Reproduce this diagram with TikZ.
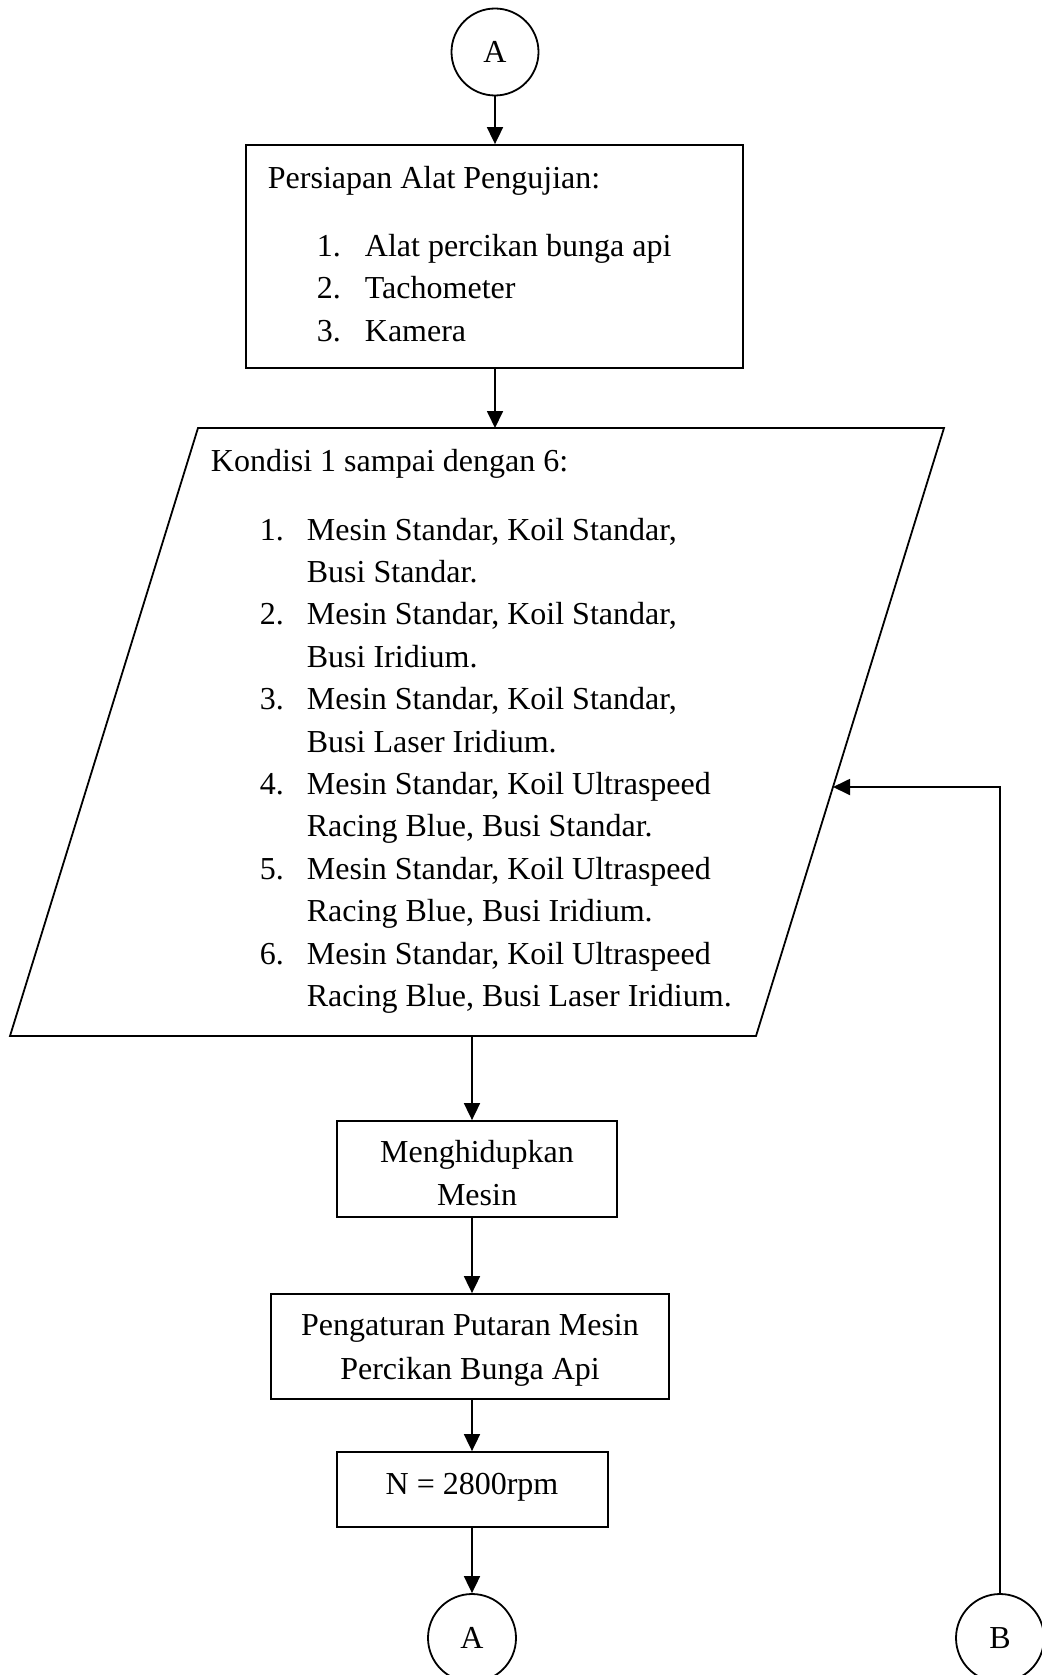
\documentclass[tikz,border=0pt]{standalone}
\usepackage{fontspec}
\setmainfont{Liberation Serif}
\usetikzlibrary{arrows.meta}
\begin{document}
\begin{tikzpicture}[x=1pt,y=-1pt,
  line width=1.8pt,
  every node/.style={font=\fontsize{32}{42.4}\selectfont, inner sep=0pt},
  box/.style={draw, rectangle},
  conn/.style={draw, circle, minimum size=87pt},
  arr/.style={-{Triangle[width=16pt,length=17pt]}},
  txt/.style={anchor=base west},
  ctxt/.style={anchor=base}]
\useasboundingbox (0,0) rectangle (1041,1675);

% connectors
\node[conn] (cA1) at (495,52) {A};
\node[conn, minimum size=88pt] (cA2) at (472,1638) {A};
\node[conn, minimum size=88pt] (cB) at (1000,1638) {B};

% preparation box
\node[box, minimum width=497pt, minimum height=223pt] (r1) at (494.5,256.5) {};
\node[txt] (r1t) at (267,188) {Persiapan Alat Pengujian:};
\foreach \t [count=\i] in {{Alat percikan bunga api},{Tachometer},{Kamera}} {
  \node[txt] (r1n\i) at (316,{256+42.5*(\i-1)}) {\i.};
  \node[txt] (r1l\i) at (364,{256+42.5*(\i-1)}) {\t};
}

% input parallelogram
\coordinate (p1) at (198,428);
\coordinate (p2) at (944,428);
\coordinate (p3) at (756,1036);
\coordinate (p4) at (10,1036);
\draw (p1) -- (p2) -- (p3) -- (p4) -- cycle;
\coordinate (ptop) at (495,428);
\coordinate (pbot) at (472,1036);
\coordinate (pin) at (833,787);
\node[txt] (kt) at (210,471) {Kondisi 1 sampai dengan 6:};
\foreach \i in {1,...,6}
  \node[txt] (kn\i) at (259,{540+84.8*(\i-1)}) {\i.};
\foreach \t [count=\i] in {
  {Mesin Standar, Koil Standar,},{Busi Standar.},
  {Mesin Standar, Koil Standar,},{Busi Iridium.},
  {Mesin Standar, Koil Standar,},{Busi Laser Iridium.},
  {Mesin Standar, Koil Ultraspeed},{Racing Blue, Busi Standar.},
  {Mesin Standar, Koil Ultraspeed},{Racing Blue, Busi Iridium.},
  {Mesin Standar, Koil Ultraspeed},{Racing Blue, Busi Laser Iridium.}}
  \node[txt] (kl\i) at (306,{540+42.4*(\i-1)}) {\t};

% process boxes
\node[box, minimum width=280pt, minimum height=96pt] (r2) at (477,1169) {};
\node[ctxt] (r2a) at (477,1162) {Menghidupkan};
\node[ctxt] (r2b) at (477,1205) {Mesin};

\node[box, minimum width=398pt, minimum height=105pt] (r3) at (470,1346.5) {};
\node[ctxt] (r3a) at (470,1335) {Pengaturan Putaran Mesin};
\node[ctxt] (r3b) at (470,1379) {Percikan Bunga Api};

\node[box, minimum width=271pt, minimum height=75pt] (r4) at (472.5,1489.5) {};
\node[ctxt] (r4a) at (472,1494) {N = 2800rpm};

% flow
\draw[arr] (cA1.south) -- (r1.north -| cA1);
\draw[arr] (r1.south -| ptop) -- (ptop);
\draw[arr] (pbot) -- (pbot |- r2.north);
\draw[arr] (pbot |- r2.south) -- (pbot |- r3.north);
\draw[arr] (pbot |- r3.south) -- (pbot |- r4.north);
\draw[arr] (pbot |- r4.south) -- (cA2.north);
\draw[arr] (cB.north) |- (pin);
\end{tikzpicture}
\end{document}
